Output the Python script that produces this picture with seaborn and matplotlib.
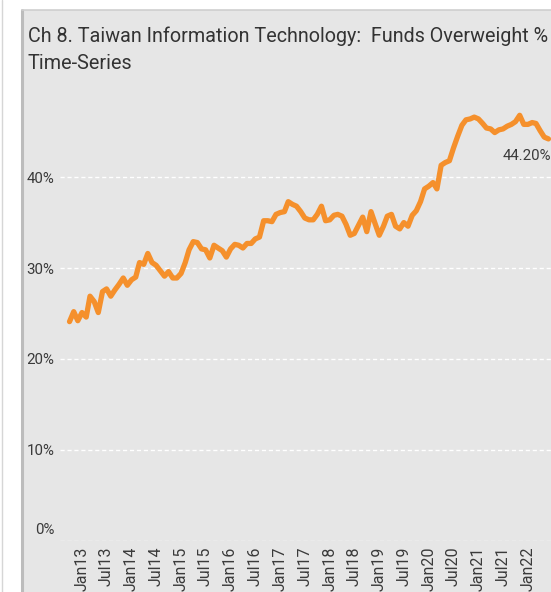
import matplotlib
matplotlib.use("Agg")
import numpy as np
import pandas as pd
import matplotlib.pyplot as plt
import seaborn as sns
import matplotlib.dates as mdates
from matplotlib.ticker import FuncFormatter
from matplotlib.transforms import ScaledTranslation
from matplotlib.lines import Line2D
from matplotlib.patches import Rectangle

# ---------------- data ----------------
start_month = "2012-10-01"
overweight_pct = [
    24.1, 25.2, 24.2, 25.1, 24.6, 26.9, 26.3, 25.1, 27.4, 27.7, 26.9, 27.6,
    28.2, 28.9, 28.1, 28.7, 29.0, 30.6, 30.4, 31.6, 30.6, 30.3, 29.7, 29.1,
    29.6, 28.9, 28.9, 29.4, 30.6, 32.0, 32.9, 32.8, 32.1, 32.0, 31.1, 32.5,
    32.2, 31.9, 31.2, 32.1, 32.6, 32.5, 32.2, 32.7, 32.7, 33.2, 33.4, 35.2,
    35.2, 35.1, 35.9, 36.1, 36.2, 37.3, 37.0, 36.8, 36.2, 35.5, 35.3, 35.3,
    35.9, 36.8, 35.2, 35.3, 35.8, 35.9, 35.7, 34.8, 33.6, 33.8, 34.7, 35.6,
    34.0, 36.2, 34.9, 33.6, 34.6, 35.7, 35.9, 34.6, 34.3, 35.0, 34.6, 35.8,
    36.3, 37.3, 38.7, 39.0, 39.4, 38.7, 41.3, 41.6, 41.8, 43.2, 44.5, 45.7,
    46.3, 46.4, 46.6, 46.4, 45.9, 45.4, 45.3, 44.9, 45.2, 45.3, 45.6, 45.8,
    46.1, 46.8, 45.8, 45.8, 46.0, 45.9, 45.1, 44.4, 44.2,
]
x_tick_dates = ["2013-01-01", "2013-07-01", "2014-01-01", "2014-07-01",
                "2015-01-01", "2015-07-01", "2016-01-01", "2016-07-01",
                "2017-01-01", "2017-07-01", "2018-01-01", "2018-07-01",
                "2019-01-01", "2019-07-01", "2020-01-01", "2020-07-01",
                "2021-01-01", "2021-07-01", "2022-01-01"]
x_tick_labels = ["Jan13", "Jul13", "Jan14", "Jul14", "Jan15", "Jul15",
                 "Jan16", "Jul16", "Jan17", "Jul17", "Jan18", "Jul18",
                 "Jan19", "Jul19", "Jan20", "Jul20", "Jan21", "Jul21", "Jan22"]
y_ticks = [0, 10, 20, 30, 40]
end_label = "44.20%"
title_text = "Ch 8. Taiwan Information Technology:  Funds Overweight %\nTime-Series"

df = pd.DataFrame({
    "date": pd.date_range(start_month, periods=len(overweight_pct), freq="MS"),
    "value": overweight_pct,
})

# ---------------- style ----------------
sns.set_style("white")
plt.rcParams["font.family"] = ["Roboto", "DejaVu Sans"]

W, H = 551, 592
fig = plt.figure(figsize=(W / 100, H / 100), dpi=100)
fig.patch.set_facecolor("white")

panel_bg = "#e6e6e6"
fig.patches.append(Rectangle((22 / W, 0), 1 - 22 / W, (H - 10) / H,
                             transform=fig.transFigure, facecolor=panel_bg,
                             edgecolor="none", zorder=-3))
fig.lines.append(Line2D([22 / W, 22 / W], [0, (H - 10) / H], transform=fig.transFigure,
                        color="#bcbcbc", lw=2.2, zorder=-2))
fig.lines.append(Line2D([22 / W, 1], [(H - 10) / H, (H - 10) / H], transform=fig.transFigure,
                        color="#cfcfcf", lw=1.2, zorder=-2))
fig.lines.append(Line2D([2 / W, 2 / W], [0, 1], transform=fig.transFigure,
                        color="#d6d6d6", lw=1.0, zorder=-2))

# axes: left edge x=60px, 0% at y=540.7px, top at 48%
px_per_pct = 9.09
y0 = 540.7
ytop_val = 48
ax_left = 60 / W
ax_bottom = (H - y0) / H
ax_height = ytop_val * px_per_pct / H
ax = fig.add_axes([ax_left, ax_bottom, 1 - ax_left, ax_height])
ax.patch.set_alpha(0)

orange = "#f5902c"
sns.lineplot(data=df, x="date", y="value", ax=ax, color=orange, linewidth=3.8,
             solid_capstyle="round", solid_joinstyle="round")

# x limits: Jan13 at x=82px, 4.13 px/month
jan13 = mdates.date2num(pd.Timestamp("2013-01-01"))
days_per_px = 30.44 / 4.13
ax.set_xlim(jan13 - (82 - 60) * days_per_px, jan13 + (W - 82) * days_per_px)
ax.set_ylim(0, ytop_val)

ax.set_xticks(mdates.date2num(pd.to_datetime(x_tick_dates)))
ax.set_xticklabels(x_tick_labels, rotation=90, fontsize=11.5, color="#3a3a3a")
ax.set_yticks(y_ticks)
ax.yaxis.set_major_formatter(FuncFormatter(lambda v, p: f"{v:.0f}%"))
for lab in ax.get_yticklabels():
    lab.set_fontsize(10.8)
    lab.set_color("#3a3a3a")
ax.tick_params(axis="both", length=0)
ax.tick_params(axis="y", pad=4)
ax.tick_params(axis="x", pad=4)

# lift the 0% label
ylabs = ax.get_yticklabels()
ylabs[0].set_transform(ylabs[0].get_transform() + ScaledTranslation(0, 12 / 100, fig.dpi_scale_trans))

ax.grid(axis="y", color="white", linestyle=(0, (3, 2)), linewidth=1.0)
ax.grid(axis="x", visible=False)
for s in ax.spines.values():
    s.set_visible(False)
ax.set_xlabel("")
ax.set_ylabel("")

# end label
ax.annotate(end_label, xy=(df["date"].iloc[-1], overweight_pct[-1]),
            xytext=(2, -12), textcoords="offset points", ha="right", va="center",
            fontsize=10.8, color="#3a3a3a", annotation_clip=False)

fig.text(28 / W, 1 - 26 / H, title_text, ha="left", va="top", fontsize=14.2,
         color="#333333", linespacing=1.55)

fig.savefig("out.png", dpi=100)
